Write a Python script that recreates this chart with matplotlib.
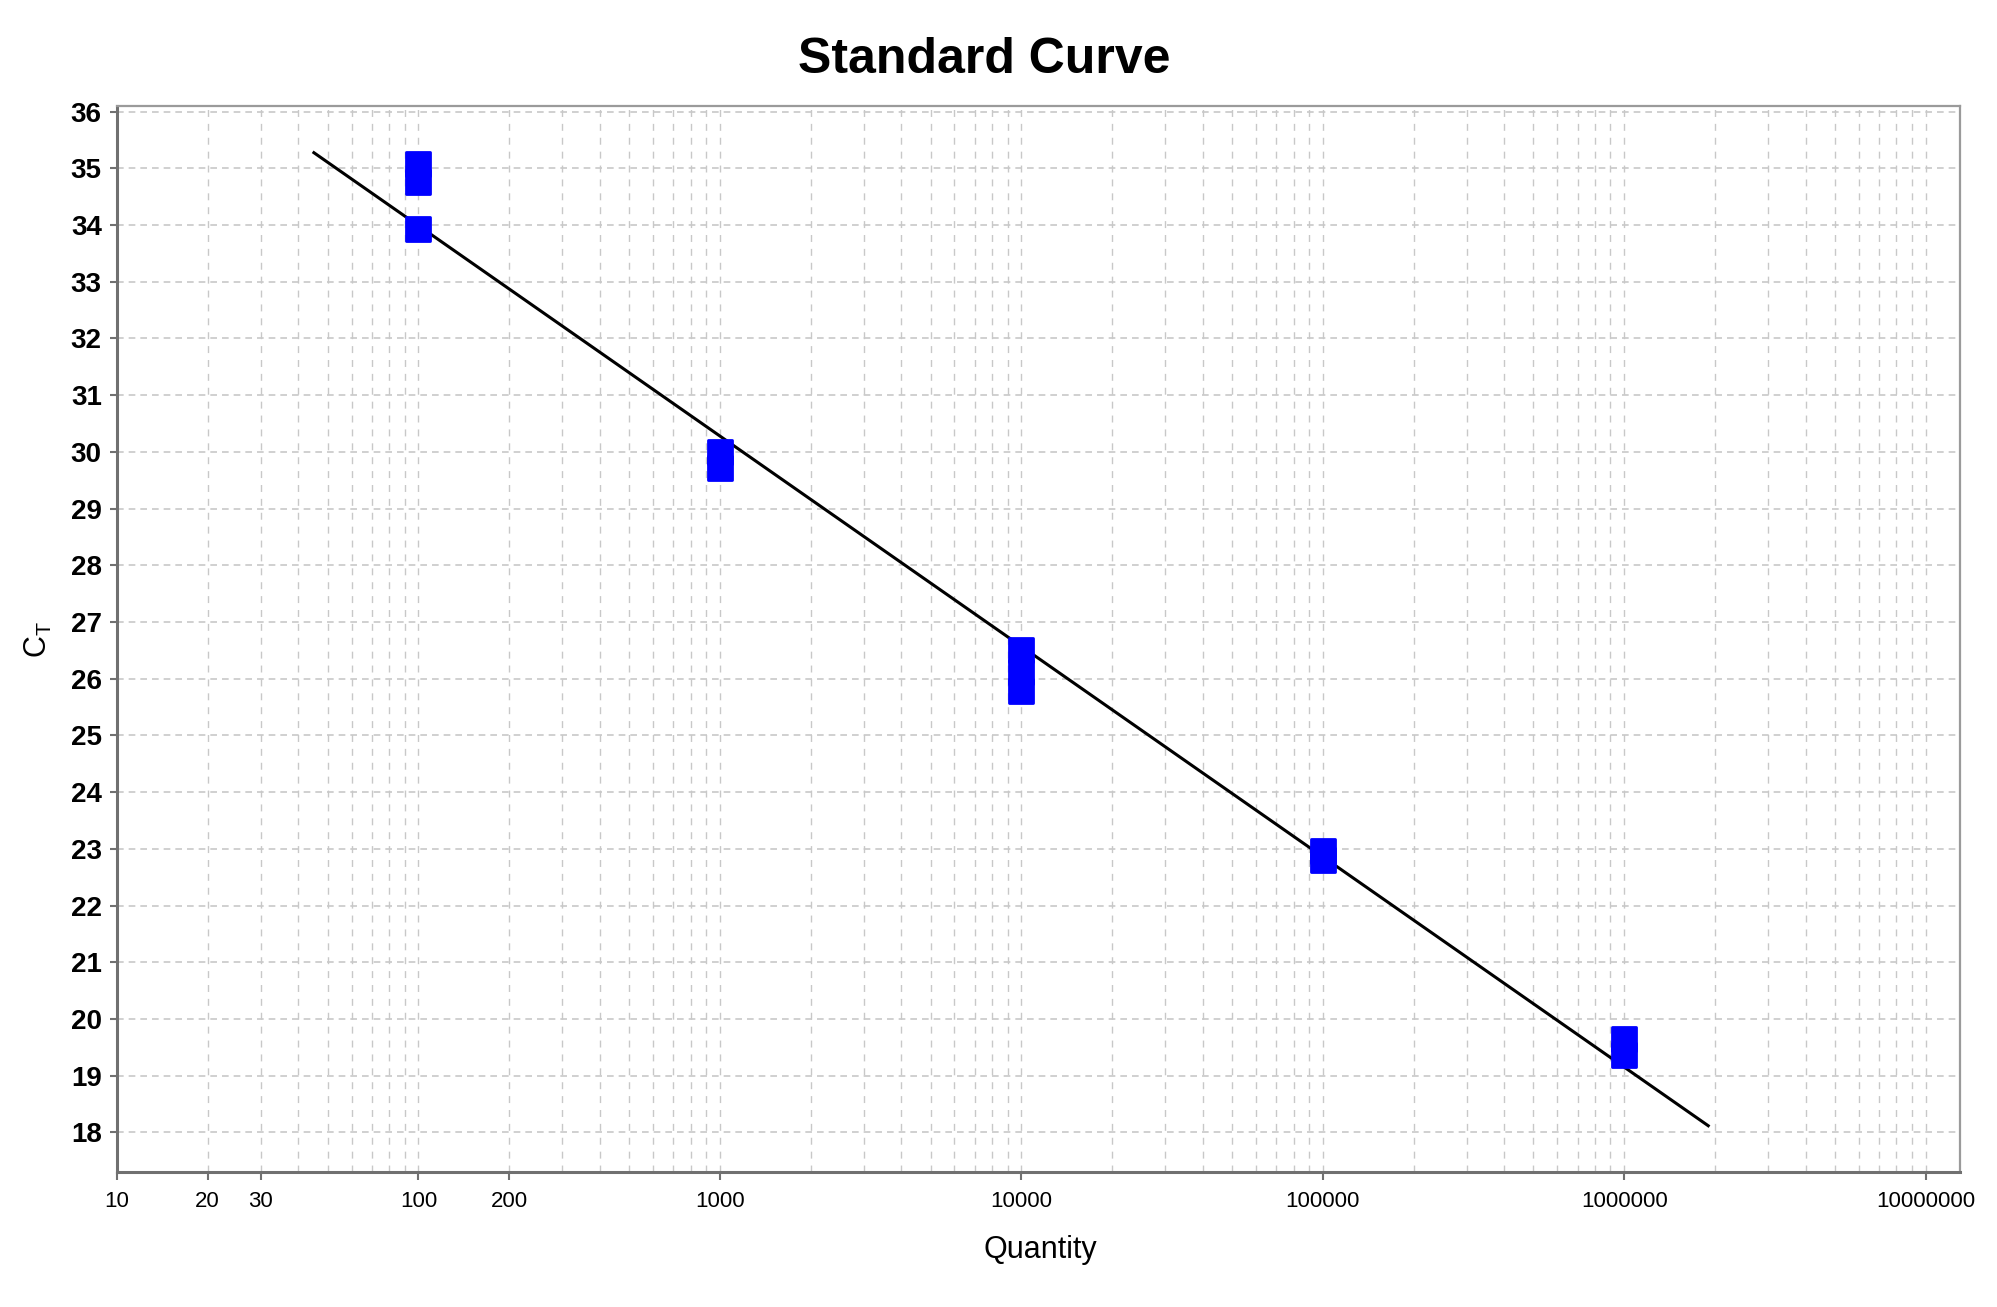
import numpy as np
import matplotlib
matplotlib.use("Agg")
import matplotlib.pyplot as plt
from matplotlib.markers import MarkerStyle
from matplotlib.ticker import FixedLocator, NullFormatter

plt.rcParams['font.family'] = ['Liberation Sans', 'DejaVu Sans']

# replicate wells
quantity = [100, 100, 100, 1000, 1000, 10000, 10000, 10000,
            100000, 100000, 1000000, 1000000]
ct = [35.07, 34.76, 33.93, 30.00, 29.72, 26.50, 26.12, 25.78,
      22.96, 22.80, 19.65, 19.37]

# standard curve as drawn: Ct = slope*log10(Q) + intercept
fit_slope = -3.71
fit_intercept = 41.41
fit_range = [45, 1.9e6]

x_ticks = [10, 20, 30, 100, 200, 1000, 10000, 100000, 1000000, 10000000]
x_labels = ['10', '20', '30', '100', '200', '1000', '10000', '100000',
            '1000000', '10000000']
y_ticks = list(range(18, 37))

W, H = 1997, 1307
fig = plt.figure(figsize=(W / 100, H / 100), dpi=100)
ax = fig.add_axes([117 / W, 1 - 1172 / H, (1960 - 117) / W, (1172 - 106) / H])

xf = np.array(fit_range)
ax.plot(xf, fit_slope * np.log10(xf) + fit_intercept, color='black', lw=2.2,
        zorder=3)

ax.plot(quantity, ct, linestyle='none',
        marker=MarkerStyle('s', joinstyle='round'), ms=17,
        mfc='#0000ff', mec='#0000ff', mew=2, zorder=4)

ax.set_xscale('log')
ax.set_xlim(10, 1.3e7)
ax.set_ylim(17.3, 36.1)

ax.xaxis.set_major_locator(FixedLocator(x_ticks))
ax.set_xticklabels(x_labels)
minor = [m * 10 ** e for e in range(1, 8) for m in range(2, 10)]
ax.xaxis.set_minor_locator(FixedLocator(minor))
ax.xaxis.set_minor_formatter(NullFormatter())
ax.set_yticks(y_ticks)

ax.grid(True, which='both', axis='x', color='#c8c8c8', ls=(0, (5, 5)), lw=1.0)
ax.grid(True, which='major', axis='y', color='#c8c8c8', ls=(0, (4, 3)), lw=1.2)
ax.set_axisbelow(True)

ax.tick_params(axis='x', which='major', length=6, width=1.5, color='#707070',
               labelsize=16, pad=8)
ax.tick_params(axis='x', which='minor', length=0)
ax.tick_params(axis='y', length=5, width=1.5, color='#707070',
               labelsize=20, pad=6)
for lab in ax.get_yticklabels():
    lab.set_fontweight('bold')

for side in ['left', 'bottom']:
    ax.spines[side].set_color('#707070')
    ax.spines[side].set_linewidth(2.2)
for side in ['top', 'right']:
    ax.spines[side].set_color('#9a9a9a')
    ax.spines[side].set_linewidth(1.6)

fig.text(0.493, 1 - 60 / H, 'Standard Curve', ha='center', va='center',
         fontsize=36, fontweight='bold')
fig.text(0.521, 1 - 1250 / H, 'Quantity', ha='center', va='center', fontsize=22)
fig.text(38 / W, 1 - 640 / H, r'C$_\mathregular{T}$', ha='center', va='center',
         fontsize=22, rotation=90)

fig.savefig('out.png', dpi=100)
